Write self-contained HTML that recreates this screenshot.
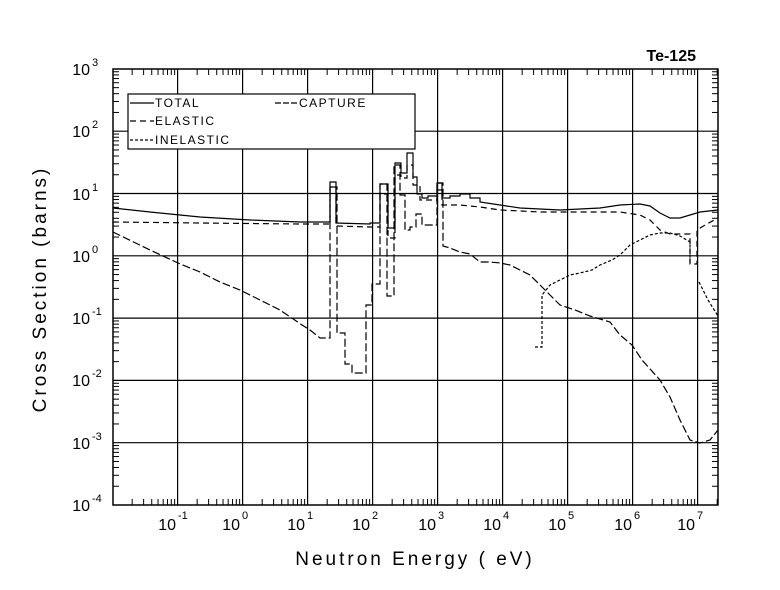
<!DOCTYPE html>
<html><head><meta charset="utf-8"><style>
body{margin:0;background:#fff}
svg{display:block}
text{font-family:"Liberation Sans",sans-serif;fill:#000}
</style></head><body>
<svg id="s" width="780" height="590" viewBox="0 0 780 590">
<rect width="780" height="590" fill="#fff"/>
<g id="grid" stroke="#000" stroke-width="1.2" fill="none"></g>
<rect x="113" y="69" width="605" height="436" fill="none" stroke="#000" stroke-width="1.5"/>
<text x="696" y="61" font-size="16" font-weight="bold" text-anchor="end">Te-125</text>
<g font-size="16" text-anchor="end" font-family="Liberation Sans">
<text x="90" y="75">10</text><text x="90" y="137">10</text><text x="90" y="200">10</text><text x="90" y="262">10</text><text x="90" y="324">10</text><text x="90" y="386">10</text><text x="90" y="449">10</text><text x="90" y="511">10</text>
</g>
<g font-size="11">
<text x="92" y="66">3</text><text x="92" y="128">2</text><text x="92" y="191">1</text><text x="92" y="253">0</text><text x="92" y="315">-1</text><text x="92" y="377">-2</text><text x="92" y="440">-3</text><text x="92" y="502">-4</text>
</g>
<g font-size="16" text-anchor="end">
<text x="176" y="530">10</text><text x="240" y="530">10</text><text x="305" y="530">10</text><text x="370" y="530">10</text><text x="436" y="530">10</text><text x="501" y="530">10</text><text x="566" y="530">10</text><text x="632" y="530">10</text><text x="695" y="530">10</text>
</g>
<g font-size="11">
<text x="178" y="519">-1</text><text x="242" y="519">0</text><text x="307" y="519">1</text><text x="372" y="519">2</text><text x="438" y="519">3</text><text x="503" y="519">4</text><text x="568" y="519">5</text><text x="634" y="519">6</text><text x="697" y="519">7</text>
</g>
<text x="415" y="565" font-size="19" text-anchor="middle" letter-spacing="3">Neutron Energy ( eV)</text>
<text transform="translate(46,289) rotate(-90)" font-size="19" text-anchor="middle" letter-spacing="3">Cross Section (barns)</text>
<rect x="128" y="94" width="287" height="55" fill="#fff" stroke="#000" stroke-width="1.2"/>
<g stroke="#000" stroke-width="1.2">
<line x1="130" y1="103" x2="154" y2="103"/>
<line x1="130" y1="121" x2="154" y2="121" stroke-dasharray="6,4"/>
<line x1="130" y1="140" x2="154" y2="140" stroke-dasharray="3,2"/>
<line x1="275" y1="103" x2="298" y2="103" stroke-dasharray="6,2"/>
</g>
<g font-size="12" letter-spacing="1.5">
<text x="155" y="107">TOTAL</text><text x="155" y="125">ELASTIC</text><text x="155" y="144">INELASTIC</text><text x="299" y="107">CAPTURE</text>
</g>
<g fill="none" stroke="#000" stroke-width="1.2">
<polyline points="113,208 150,212 200,217 250,220 300,222 330,222 330,182 336,182 336,223 370,224 370,223 380,223 380,184 388,184 388,228 395,228 395,163 401,163 401,173 407,173 407,153 413,153 413,177 417,177 417,194 422,194 422,198 428,198 428,196 437,196 437,183 442,183 442,198 450,198 450,196 460,196 460,194 470,194 470,198 480,198 480,202 500,205 520,208 560,210 600,208 620,205 640,204 650,206 660,213 670,218 680,218 690,215 700,212 718,210"/>
<polyline stroke-dasharray="6,4" points="113,222 200,223 300,224 330,224 330,187 336,187 336,226 370,227 380,227 380,194 388,194 388,238 395,238 395,175 401,175 401,178 407,178 407,165 413,165 413,185 420,185 420,200 430,200 437,200 437,190 442,190 442,205 460,205 480,207 500,210 540,212 580,212 620,212 640,215 650,220 660,230 670,234 680,234 690,234 690,264 697,264 697,230 705,225 718,218"/>
<polyline stroke-dasharray="8,3" points="113,232 150,250 178,263 200,272 220,282 240,290 260,300 280,310 302,325 310,330 320,338 330,338 330,187 337,187 337,333 345,333 345,364 352,364 352,373 366,373 366,305 372,305 372,284 380,284 380,184 387,184 387,296 394,296 394,165 400,165 400,195 405,195 405,230 410,230 410,227 416,227 416,214 422,214 422,225 437,225 437,183 443,183 443,246 450,248 460,252 470,254 480,262 490,262 500,263 510,265 520,270 530,275 540,285 548,293 560,305 575,310 590,316 610,322 620,335 632,345 642,360 660,380 670,397 680,420 690,440 700,443 710,440 718,430"/>
<polyline stroke-dasharray="3,2" points="535,347 542,347 542,295 550,285 560,280 570,275 580,273 592,270 600,265 612,260 620,255 630,245 640,240 650,235 660,233 670,233 680,236 690,242 690,262 692,262"/>
<polyline stroke-dasharray="3,2" points="699,282 708,300 718,316"/>
</g>
</svg>
<script>
var g=document.getElementById('grid'),NS='http://www.w3.org/2000/svg';
function L(a,b,c,d,w){var l=document.createElementNS(NS,'line');l.setAttribute('x1',a);l.setAttribute('y1',b);l.setAttribute('x2',c);l.setAttribute('y2',d);if(w)l.setAttribute('stroke-width',w);g.appendChild(l);}
var x0=177.6,dx=65.0;
for(var k=-2;k<=7;k++){var xb=x0+(k+1)*dx;if(xb>113&&xb<718)L(xb,69,xb,505);
 for(var m=2;m<10;m++){var x=xb+Math.log10(m)*dx;if(x>113&&x<718){L(x,505,x,499,1);L(x,69,x,75,1);}}}
var y0=505,dy=62.3;
for(var k=0;k<7;k++){var yb=y0-k*dy;if(k>0)L(113,yb,718,yb);
 for(var m=2;m<10;m++){var y=yb-Math.log10(m)*dy;L(113,y,119,y,1);L(718,y,712,y,1);}}
</script>
</body></html>
